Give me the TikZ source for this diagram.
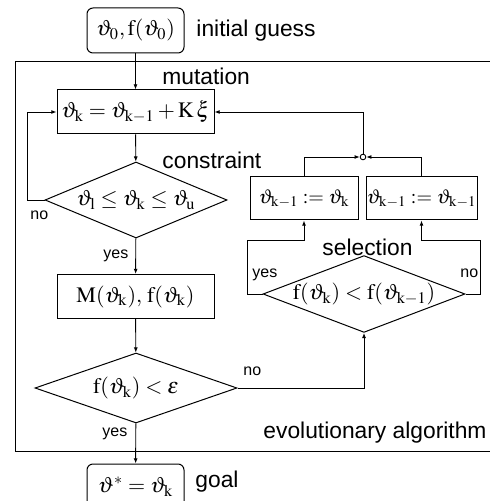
\documentclass[tikz,border=0pt]{standalone}
\usepackage{mathptmx}
\usepackage[no-math]{fontspec}
\newfontfamily\labelfont{Liberation Sans}
\usetikzlibrary{arrows.meta,shapes.geometric}

\begin{document}
\begin{tikzpicture}[x=0.5pt, y=-0.5pt,
	every node/.style={font=\fontsize{11}{13}\selectfont},
	>={Latex[length=2.6pt,width=2pt]}, line width=0.45pt,
	box/.style={draw, line width=0.5pt, inner sep=0pt, minimum width=78.5pt, minimum height=22pt},
	rbox/.style={box, rounded corners=3pt, minimum width=48.5pt, minimum height=22.5pt},
	decision/.style={draw, diamond, line width=0.5pt, inner sep=0pt, aspect=2.6},
	lbl/.style={font=\labelfont\fontsize{11.4}{13}\selectfont, inner sep=0pt, anchor=base west},
	tag/.style={font=\labelfont\fontsize{8}{10}\selectfont, inner sep=0pt, anchor=base west}]
	\useasboundingbox (0,0) rectangle (490,501);
	% frame of the evolutionary algorithm
	\draw[line width=0.5pt] (15,62) rectangle (500,451);
	% flow boxes
	\node[rbox] (start) at (135.5,30.5) {$\vartheta_0,\mathrm{f}(\vartheta_0)$};
	\node[box] (mut) at (135.5,112) {$\vartheta_{\mathrm{k}}=\vartheta_{\mathrm{k}-1}+\mathrm{K}\,\xi$};
	\node[decision, minimum width=91pt, minimum height=38pt] (lim) at (136,200) {$\vartheta_{\mathrm{l}}\le\vartheta_{\mathrm{k}}\le\vartheta_{\mathrm{u}}$};
	\node[box] (eval) at (135.5,296.5) {$\mathrm{M}(\vartheta_{\mathrm{k}}),\,\mathrm{f}(\vartheta_{\mathrm{k}})$};
	\node[decision, minimum width=101pt, minimum height=35pt] (stop) at (136,388) {$\mathrm{f}(\vartheta_{\mathrm{k}})<\epsilon$};
	\node[rbox] (goal) at (135.5,486.5) {$\vartheta^*=\vartheta_{\mathrm{k}}$};
	\node[decision, minimum width=101pt, minimum height=35pt] (sel) at (364,294) {$\mathrm{f}(\vartheta_{\mathrm{k}})<\mathrm{f}(\vartheta_{\mathrm{k}-1})$};
	\node[box, minimum width=54pt, minimum height=21.5pt, font=\fontsize{10}{12}\selectfont] (keep) at (304,198.5) {$\vartheta_{\mathrm{k}-1}:=\vartheta_{\mathrm{k}}$};
	\node[box, minimum width=55.5pt, minimum height=21.5pt, font=\fontsize{10}{12}\selectfont] (drop) at (421.5,198.5) {$\vartheta_{\mathrm{k}-1}:=\vartheta_{\mathrm{k}-1}$};
	\node[circle, draw, fill=white, inner sep=0pt, minimum size=2.8pt] (jn) at (363,157) {};
	% labels
	\node[lbl] (tinit) at (196,37) {initial guess};
	\node[lbl] (tmut) at (162,85) {mutation};
	\node[lbl] (tlim) at (162,169) {constraint};
	\node[lbl] (tsel) at (322,256) {selection};
	\node[lbl] (tea) at (263,438) {evolutionary algorithm};
	\node[lbl] (tgoal) at (195,487) {goal};
	\node[tag] (limno) at (30,220) {no};
	\node[tag] (limyes) at (103,259) {yes};
	\node[tag] (stopno) at (243,375) {no};
	\node[tag] (stopyes) at (102,436) {yes};
	\node[tag] (selyes) at (252,278) {yes};
	\node[tag] (selno) at (460,278) {no};
	% connectors
	\coordinate (back) at (27,200);
	\coordinate (yesc) at (247,240);
	\coordinate (noc) at (480,240);
	\draw[->] (start) -- (mut);
	\draw[->] (mut) -- (lim);
	\draw[->] (lim.west) -- (back) |- (mut.west);
	\draw[->] (lim) -- (eval);
	\draw[->] (eval) -- (stop);
	\draw[->] (stop) -- (goal);
	\draw[->] (stop.east) -| (sel.south);
	\draw[->] (sel.west) -| (yesc) -| (keep.south);
	\draw[->] (sel.east) -| (noc) -| (drop.south);
	\draw[->] (keep.north) |- (jn.west);
	\draw[->] (drop.north) |- (jn.east);
	\draw[->] (jn.north) |- (mut.east);
\end{tikzpicture}
\end{document}
